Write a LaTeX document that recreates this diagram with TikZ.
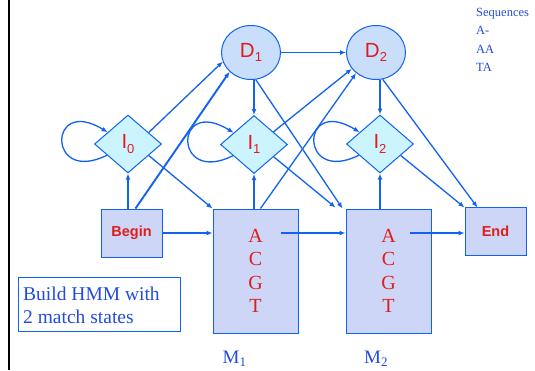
\documentclass[tikz,border=0pt]{standalone}
\usepackage{fontspec}
\setmainfont{Liberation Serif}
\setsansfont{Liberation Sans}
\usetikzlibrary{shapes.geometric,arrows.meta}
\definecolor{lineblue}{RGB}{18,98,240}
\definecolor{txtred}{RGB}{225,28,28}
\definecolor{lblblue}{RGB}{35,75,225}
\definecolor{dfill}{RGB}{200,222,250}
\definecolor{ifill}{RGB}{204,244,255}
\definecolor{mfill}{RGB}{205,214,246}
\newcommand{\sub}[1]{\raisebox{-0.4ex}{\fontsize{13}{13}\selectfont #1}}
\tikzset{
  conn/.style={draw=lineblue, line width=1.3pt, -{Latex[length=6pt,width=5pt]}},
  delstate/.style={ellipse, draw=lineblue, line width=1pt, fill=dfill, minimum width=59pt, minimum height=54pt, inner sep=0pt, text=txtred, font=\sffamily\fontsize{20.5}{20.5}\selectfont},
  insstate/.style={diamond, draw=lineblue, line width=1pt, fill=ifill, aspect=1.14, minimum width=67pt, minimum height=58pt, inner sep=0pt, text=txtred, font=\sffamily\fontsize{20.5}{20.5}\selectfont},
  matchstate/.style={rectangle, draw=lineblue, line width=1pt, fill=mfill, minimum width=85pt, minimum height=124pt, inner sep=0pt, align=center, text=txtred, font=\rmfamily\fontsize{20}{23.5}\selectfont},
  endstate/.style={rectangle, draw=lineblue, line width=1pt, fill=mfill, minimum width=61pt, minimum height=48pt, inner sep=0pt, text=txtred, font=\sffamily\bfseries\fontsize{14.5}{14.5}\selectfont},
  mlabel/.style={anchor=base west, inner sep=0pt, text=lblblue, font=\rmfamily\fontsize{19}{19}\selectfont},
}
\begin{document}
\begin{tikzpicture}[x=1pt,y=-1pt]
\useasboundingbox (0,0) rectangle (535,370);
\fill[white] (0,0) rectangle (535,370);
\draw[black, line width=2pt] (8.5,0) -- (8.5,370);
% nodes
\node[delstate] (D1) at (251,52.5) {D\sub{1}};
\node[delstate] (D2) at (376,52.5) {D\sub{2}};
\node[insstate] (I0) at (128,144) {I\sub{0}};
\node[insstate] (I1) at (254,144.5) {I\sub{1}};
\node[insstate] (I2) at (380,144) {I\sub{2}};
\node[endstate] (B) at (131.5,233) {Begin};
\node[endstate] (E) at (495.5,231) {End};
\node[matchstate] (M1) at (255.5,271) {A\\C\\G\\T};
\node[matchstate] (M2) at (388.5,271) {A\\C\\G\\T};
\node[mlabel] (L1) at (222.5,363) {M\sub{1}};
\node[mlabel] (L2) at (364,363) {M\sub{2}};
\node[draw=lineblue, line width=1pt, fill=white, minimum width=162pt, minimum height=54pt, inner sep=0pt] (T) at (99,304) {};
\node[anchor=west, inner sep=0pt, align=left, text=lblblue, font=\rmfamily\fontsize{19.5}{23}\selectfont] (TT) at (23,305) {Build HMM with\\2 match states};
\node[anchor=north west, inner sep=0pt, align=left, text=lblblue, font=\rmfamily\fontsize{12.5}{18.5}\selectfont] (S) at (476,8) {Sequences\\A-\\AA\\TA};
\coordinate (m1out) at (281,233);
\coordinate (m2out) at (410,233);
% connectors
\draw[conn] (D1.east) -- (D2.west);
\draw[conn] (D1.south -| I1.north) -- (I1.north);
\draw[conn] (D2.south -| I2.north) -- (I2.north);
\draw[conn] (D1.-80) -- ([xshift=-3pt]M2.north west);
\draw[conn] (D2.-76) -- ([xshift=13pt,yshift=-1pt]E.north west);
\draw[conn] (I0.29) -- (D1.198);
\draw[conn, line width=1.9pt] ([xshift=4pt]B.north) -- (D1.222);
\draw[conn] (I0.-29) -- (M1.north west);
\draw[conn] (B.north -| I0.south) -- (I0.south);
\draw[conn] (B.east) -- (M1.west |- B.east);
\draw[conn] (I1.33) -- (D2.214);
\draw[conn] (I1.-32) -- ([xshift=-10pt,yshift=1pt]M2.north west);
\draw[conn] (M1.north -| I1.south) -- (I1.south);
\draw[conn] ([xshift=5pt]M1.north) -- (D2.226);
\draw[conn] (m1out) -- (M2.west |- m1out);
\draw[conn] (M2.north -| I2.south) -- (I2.south);
\draw[conn] (I2.-29) -- ([yshift=-1pt]E.north west);
\draw[conn] (m2out) -- (E.west |- m2out);
% self loops
\draw[conn] (I0.208) .. controls +(-60,30) and +(-60,-37) .. (I0.150);
\draw[conn] (I1.208) .. controls +(-60,30) and +(-60,-37) .. (I1.150);
\draw[conn] (I2.208) .. controls +(-60,30) and +(-60,-37) .. (I2.150);
\end{tikzpicture}
\end{document}
